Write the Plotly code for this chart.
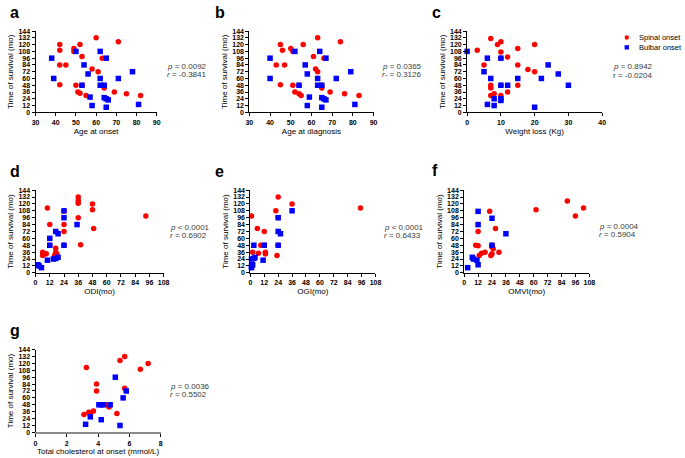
import plotly.graph_objects as go

W, H = 685, 458
RED = "#ff0000"
BLUE = "#0000ff"
FONT = "Arial, Liberation Sans, sans-serif"

# a: age at onset
a_sp_x = [60, 71, 42, 52, 42, 49, 49, 53, 63, 42, 45, 58, 61, 42, 50, 53, 63, 64, 51, 52, 55, 69, 75, 82]
a_sp_y = [132, 125, 120, 120, 110, 113, 108, 99, 96, 84, 84, 77, 72, 49, 48, 48, 48, 43, 36, 34, 30, 36, 33, 30]
a_bu_x = [38, 50, 62, 65, 54, 56, 39, 62, 71, 78, 62, 64, 53, 57, 64, 65, 66, 58, 65, 81]
a_bu_y = [96, 108, 108, 96, 84, 68, 60, 60, 60, 72, 48, 48, 48, 27, 26, 24, 22, 12, 9, 14]

# b: age at diagnosis
b_sp_x = [63, 74, 45, 56, 46, 50, 51, 61, 66, 43, 47, 62, 63, 45, 51, 54, 65, 65, 52, 54, 55, 69, 76, 83]
b_sp_y = [132, 125, 120, 120, 110, 113, 108, 99, 96, 84, 84, 77, 72, 49, 48, 48, 48, 43, 36, 33, 30, 36, 33, 30]
b_bu_x = [40, 52, 64, 67, 57, 58, 40, 63, 72, 79, 63, 65, 54, 59, 65, 66, 67, 58, 65, 81]
b_bu_y = [96, 108, 108, 96, 84, 68, 60, 60, 60, 72, 48, 48, 48, 27, 26, 24, 22, 12, 9, 14]

# c: weight loss
c_sp_x = [7, 10, 9, 20, 3, 15, 10, 12, 10, 5, 15, 18, 20, 7, 7, 10, 15, 12, 8, 7, 10]
c_sp_y = [131, 125, 120, 120, 110, 113, 107, 98, 96, 84, 84, 76, 72, 48, 43, 48, 48, 36, 33, 30, 30]
c_bu_x = [0, 6, 10, 5, 24, 27, 7, 15, 22, 30, 12, 10, 8, 10, 10, 6, 8, 20]
c_bu_y = [108, 96, 96, 72, 84, 68, 60, 60, 60, 48, 48, 48, 24, 24, 21, 14, 12, 9]

# d: ODI
d_sp_x = [36, 36, 36, 48, 48, 10, 93, 36, 24, 12, 24, 49, 24, 12, 24, 38, 6, 6, 9, 17, 17, 18, 16]
d_sp_y = [132, 126, 121, 120, 110, 113, 99, 96, 107, 84, 84, 77, 72, 48, 48, 49, 36, 30, 33, 43, 36, 33, 30]
d_bu_x = [2, 3, 5, 10, 12, 12, 17, 19, 15, 17, 19, 24, 24, 35, 24]
d_bu_y = [14, 12, 9, 22, 60, 48, 72, 68, 24, 25, 27, 96, 108, 84, 48]

# e: OGI
e_sp_x = [24, 36, 22, 95, 1, 24, 6, 12, 9, 12, 24, 2, 7, 13, 13, 23]
e_sp_y = [132, 120, 108, 113, 99, 96, 77, 72, 48, 48, 48, 36, 34, 36, 33, 30]
e_bu_x = [36, 24, 24, 26, 3, 12, 24, 1, 3, 4, 11, 2, 1, 1]
e_bu_y = [108, 96, 72, 68, 48, 48, 48, 24, 25, 27, 22, 14, 12, 9]

# f: OMVI
f_sp_x = [89, 103, 62, 22, 96, 27, 12, 10, 12, 24, 24, 25, 18, 15, 13, 30, 24, 23]
f_sp_y = [125, 113, 110, 107, 99, 77, 72, 48, 47, 48, 45, 42, 36, 34, 30, 36, 33, 30]
f_bu_x = [12, 24, 12, 36, 24, 7, 8, 11, 12, 3]
f_bu_y = [107, 95, 84, 68, 48, 27, 24, 22, 14, 9]

# g: total cholesterol
g_sp_x = [5.7, 5.4, 7.2, 3.25, 6.7, 3.9, 3.9, 5.7, 4.5, 4.7, 3.7, 3.4, 3.5, 3.1, 5.2]
g_sp_y = [132, 125, 120, 113, 110, 84, 72, 77, 48, 44, 37, 35, 31, 31, 33]
g_bu_x = [5.1, 5.8, 5.6, 4.05, 4.2, 4.35, 4.77, 3.5, 4.2, 3.2, 5.4]
g_bu_y = [96, 72, 60, 48, 48, 48, 48, 27, 22, 14, 12]

y_ticks = list(range(0, 145, 12))
legend_names = ["Spinal onset", "Bulbar onset"]

panels = [
    # letter, spinal x/y, bulbar x/y, x title, x range, x dtick, px box, p text, r text, stats pos
    ("a", a_sp_x, a_sp_y, a_bu_x, a_bu_y, "Age at onset", [30, 90], 10,
     (32, 155, 27.5, 110), "<i>p</i> = 0.0092", "<i>r</i> = -0.3841", (163, 63.5)),
    ("b", b_sp_x, b_sp_y, b_bu_x, b_bu_y, "Age at diagnosis", [30, 90], 10,
     (249, 375, 27.5, 110), "<i>p</i> = 0.0365", "<i>r</i>- = 0.3126", (381.5, 63.5)),
    ("c", c_sp_x, c_sp_y, c_bu_x, c_bu_y, "Weight loss (Kg)", [0, 40], 10,
     (470, 607, 27.5, 110), "<i>p</i> = 0.8942", "r = -0.0204", (616, 63.7)),
    ("d", d_sp_x, d_sp_y, d_bu_x, d_bu_y, "ODI(mo)", [0, 108], 12,
     (32, 162, 189, 273), "<i>p</i> < 0.0001", "<i>r</i> = 0.6902", (166.5, 227)),
    ("e", e_sp_x, e_sp_y, e_bu_x, e_bu_y, "OGI(mo)", [0, 108], 12,
     (250, 377, 189, 273), "<i>p</i> < 0.0001", "<i>r</i> = 0.6433", (384, 227)),
    ("f", f_sp_x, f_sp_y, f_bu_x, f_bu_y, "OMVI(mo)", [0, 108], 12,
     (467, 594, 189, 273), "<i>p</i> = 0.0004", "<i>r</i> = 0.5904", (601.5, 226)),
    ("g", g_sp_x, g_sp_y, g_bu_x, g_bu_y, "Total cholesterol at onset (mmol/L)", [0, 8], 2,
     (32, 159, 351, 435), "<i>p</i> = 0.0036", "<i>r</i> = 0.5502", (166.5, 388)),
]

letter_pos = {"a": (4, 9), "b": (212, 9), "c": (432, 9),
              "d": (4, 170), "e": (212, 170), "f": (432, 169), "g": (4, 332)}


def px(x):
    return x / W


def py(y):
    return 1 - y / H


fig = go.Figure()
annotations = []
shapes = []

for i, (letter, sx, sy, bx, by, xtitle, xr, xd, box, ptxt, rtxt, spos) in enumerate(panels):
    n = "" if i == 0 else str(i + 1)
    x0, x1, y0, y1 = box
    axis_common = dict(showline=True, linecolor="black", linewidth=1, ticks="outside",
                       ticklen=3, tickwidth=1, tickcolor="black", showgrid=False,
                       zeroline=False, tickfont=dict(size=7, family=FONT, color="black", weight="bold"))
    xaxis = dict(domain=[px(x0), px(x1)], range=xr, dtick=xd, tick0=xr[0], anchor="y" + n,
                 title=dict(text=xtitle, standoff=3, font=dict(size=8, family=FONT, color="black")),
                 **axis_common)
    if letter == "g":
        xaxis.update(linecolor="#8c8c8c", linewidth=2)
    fig.update_layout(**{
        "xaxis" + n: xaxis,
        "yaxis" + n: dict(domain=[py(y1), py(y0)], range=[0, 144], tickvals=y_ticks,
                          anchor="x" + n,
                          title=dict(text="Time of survival (mo)", standoff=3,
                                     font=dict(size=8, family=FONT, color="black")),
                          **axis_common),
    })
    fig.add_trace(go.Scatter(x=sx, y=sy, mode="markers", name=legend_names[0],
                             marker=dict(color=RED, size=5.5, symbol="circle"),
                             xaxis="x" + n, yaxis="y" + n, cliponaxis=False, showlegend=False))
    fig.add_trace(go.Scatter(x=bx, y=by, mode="markers", name=legend_names[1],
                             marker=dict(color=BLUE, size=5.5, symbol="square"),
                             xaxis="x" + n, yaxis="y" + n, cliponaxis=False, showlegend=False))
    for k, txt in enumerate([ptxt, rtxt]):
        annotations.append(dict(text=txt, x=px(spos[0]), y=py(spos[1] + 8.5 * k), xref="paper", yref="paper",
                                xanchor="left", yanchor="middle", align="left", showarrow=False,
                                font=dict(size=8, family=FONT, color="#3a3a3a")))
    lx, ly = letter_pos[letter]
    annotations.append(dict(text="<b>" + letter + "</b>", x=px(lx), y=py(ly), xref="paper", yref="paper",
                            xanchor="left", yanchor="middle", showarrow=False,
                            font=dict(size=16, family=FONT, color="black")))

# legend drawn by hand so it does not push the margins
for k, (name, col, kind) in enumerate([(legend_names[0], RED, "circle"), (legend_names[1], BLUE, "rect")]):
    cy = 34 + k * 10
    shapes.append(dict(type=kind, xref="paper", yref="paper",
                       x0=px(632 - 2.2), x1=px(632 + 2.2), y0=py(cy + 2.2), y1=py(cy - 2.2),
                       fillcolor=col, line=dict(width=0)))
    annotations.append(dict(text=name, x=px(642), y=py(cy), xref="paper", yref="paper",
                            xanchor="left", yanchor="middle", showarrow=False,
                            font=dict(size=7.5, family=FONT, color="black")))

fig.update_layout(
    width=W, height=H,
    margin=dict(l=0, r=0, t=0, b=0),
    paper_bgcolor="white", plot_bgcolor="white",
    annotations=annotations,
    shapes=shapes,
    showlegend=False,
)

# drop the default 8 px page margin so the figure fills the window exactly
fig.write_html("out.html", config={"displayModeBar": False},
               post_script="document.body.style.margin='0px';")
